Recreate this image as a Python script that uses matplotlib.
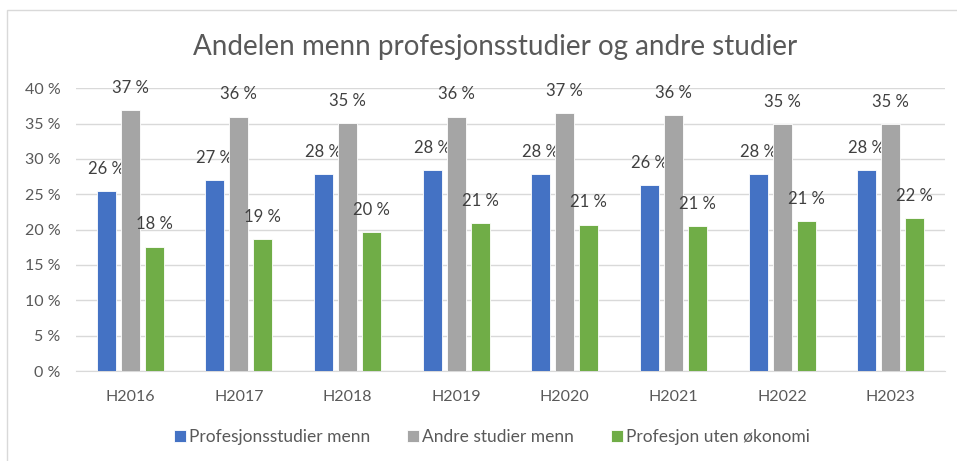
import numpy as np
import matplotlib
matplotlib.use("Agg")
import matplotlib.pyplot as plt
from matplotlib.patches import Rectangle

plt.rcParams['font.family'] = ['Lato', 'DejaVu Sans']

# data (percent)
years = ['H2016', 'H2017', 'H2018', 'H2019', 'H2020', 'H2021', 'H2022', 'H2023']
profesjon_menn = [25.5, 27.0, 27.9, 28.4, 27.9, 26.3, 27.9, 28.4]
andre_menn = [36.9, 36.0, 35.1, 36.0, 36.5, 36.2, 34.9, 34.9]
profesjon_uten_okonomi = [17.6, 18.7, 19.6, 20.9, 20.7, 20.5, 21.2, 21.6]
labels_profesjon = ['26 %', '27 %', '28 %', '28 %', '28 %', '26 %', '28 %', '28 %']
labels_andre = ['37 %', '36 %', '35 %', '36 %', '37 %', '36 %', '35 %', '35 %']
labels_uten = ['18 %', '19 %', '20 %', '21 %', '21 %', '21 %', '21 %', '22 %']
series_names = ['Profesjonsstudier menn', 'Andre studier menn', 'Profesjon uten økonomi']
colors = ['#4472C4', '#A5A5A5', '#70AD47']

fig = plt.figure(figsize=(9.57, 4.61), dpi=100)
ax = fig.add_axes([0.0794, 0.1952, 0.908, 0.6133])

# chart frame (left and top edges visible)
fig.add_artist(Rectangle((7 / 957, -0.1), 1.1, 1.1 - 10 / 461, transform=fig.transFigure,
                         fill=False, edgecolor='#D9D9D9', linewidth=1))

x = np.arange(len(years))
width = 0.175
step = 0.221
all_series = [profesjon_menn, andre_menn, profesjon_uten_okonomi]
all_labels = [labels_profesjon, labels_andre, labels_uten]

for i, (vals, labs) in enumerate(zip(all_series, all_labels)):
    pos = x + (i - 1) * step
    ax.bar(pos, vals, width, color=colors[i], label=series_names[i],
           edgecolor='white', linewidth=0.6, zorder=3)
    for px, v, t in zip(pos, vals, labs):
        ax.annotate(t, (px, v), xytext=(0, 16), textcoords='offset points',
                    ha='center', va='center', fontsize=12, color='#404040')

ax.set_xlim(-0.5, len(years) - 0.5)
ax.set_ylim(0, 40)
ax.set_yticks(range(0, 41, 5))
ax.set_yticklabels([f'{t} %' for t in range(0, 41, 5)])
ax.set_xticks(x)
ax.set_xticklabels(years)
ax.tick_params(axis='both', length=0, labelsize=11.5, labelcolor='#595959')
ax.tick_params(axis='x', pad=14)
ax.tick_params(axis='y', pad=11)
ax.grid(axis='y', color='#D9D9D9', linewidth=1, zorder=0)
for s in ['top', 'right', 'left']:
    ax.spines[s].set_visible(False)
ax.spines['bottom'].set_color('#D9D9D9')

fig.text(0.517, 0.898, 'Andelen menn profesjonsstudier og andre studier',
         ha='center', va='center', fontsize=20, color='#595959')

fig.legend(loc='center', bbox_to_anchor=(0.514, 0.052), ncol=3, frameon=False,
           fontsize=12.5, handlelength=0.7, handleheight=0.7, handletextpad=0.2,
           columnspacing=2.1, labelcolor='#595959')

fig.savefig('out.png', dpi=100)
